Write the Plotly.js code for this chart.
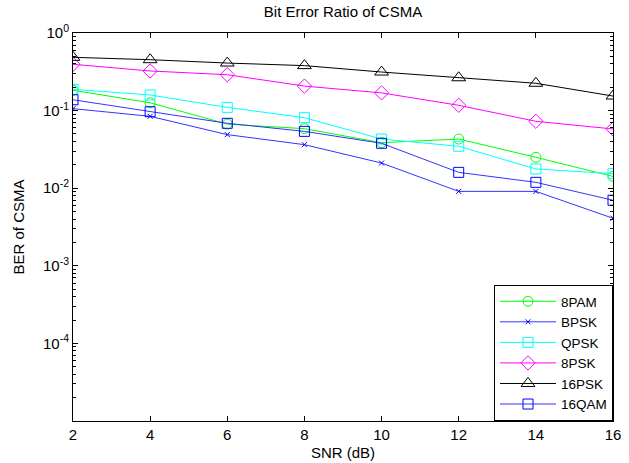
<!DOCTYPE html>
<html>
<head>
<meta charset="utf-8">
<script src="https://cdn.plot.ly/plotly-3.0.1.min.js"></script>
<style>
html,body{margin:0;padding:0;background:#fff;}
#chart{width:629px;height:463px;}
</style>
</head>
<body>
<div id="chart"></div>
<script>
// SNR (dB)
const snr = [2, 4, 6, 8, 10, 12, 14, 16];
// BER values
const ber8PAM  = [0.183, 0.126, 0.067, 0.0585, 0.0386, 0.043, 0.025, 0.0142];
const berBPSK  = [0.106, 0.0844, 0.049, 0.0364, 0.0211, 0.0091, 0.0091, 0.0041];
const berQPSK  = [0.188, 0.159, 0.110, 0.081, 0.043, 0.0347, 0.0177, 0.0154];
const ber8PSK  = [0.395, 0.324, 0.29, 0.207, 0.169, 0.117, 0.0728, 0.058];
const ber16PSK = [0.486, 0.453, 0.41, 0.38, 0.314, 0.265, 0.225, 0.154];
const ber16QAM = [0.138, 0.0968, 0.0686, 0.054, 0.0379, 0.016, 0.0119, 0.007];

const seriesNames = ['8PAM', 'BPSK', 'QPSK', '8PSK', '16PSK', '16QAM'];
const seriesData = [ber8PAM, berBPSK, berQPSK, ber8PSK, ber16PSK, ber16QAM];
const xTicks = [2, 4, 6, 8, 10, 12, 14, 16];
const yTickVals = [1e-5, 1e-4, 1e-3, 1e-2, 1e-1, 1];
const yTickText = ['', '10<sup>-4</sup>', '10<sup>-3</sup>', '10<sup>-2</sup>', '10<sup>-1</sup>', '10<sup>0</sup>'];

const styles = [
  {color: '#00ff00', line: '#00ff00', symbol: 'circle-open', size: 10},
  {color: '#0000ff', line: '#3333ff', symbol: 'x-thin-open', size: 5},
  {color: '#00ffff', line: '#00ffff', symbol: 'square-open', size: 10},
  {color: '#ff00ff', line: '#ff00ff', symbol: 'diamond-open', size: 11},
  {color: '#000000', line: '#000000', symbol: 'triangle-up-open', size: 12},
  {color: '#0000ff', line: '#3333ff', symbol: 'square-open', size: 10}
];

const traces = seriesNames.map((name, i) => ({
  x: snr,
  y: seriesData[i],
  name: name,
  type: 'scatter',
  mode: 'lines+markers',
  line: {color: styles[i].line, width: 1},
  marker: {symbol: styles[i].symbol, size: styles[i].size, color: styles[i].color,
           line: {color: styles[i].color, width: 1}}
}));

// minor tick positions for the log axis
const minorVals = [];
for (let e = -5; e < 0; e++) for (let m = 2; m <= 9; m++) minorVals.push(m * Math.pow(10, e));

const fam = 'Liberation Sans, Arial, sans-serif';
const font = {family: fam, size: 15, color: '#000'};

const layout = {
  width: 629, height: 463,
  margin: {l: 73, r: 16, t: 33, b: 42},
  paper_bgcolor: '#fff', plot_bgcolor: '#fff',
  font: font,
  showlegend: true,
  title: {text: 'Bit Error Ratio of CSMA', font: {family: fam, size: 15, color: '#000'},
          xref: 'paper', x: 0.5, xanchor: 'center', yref: 'container', y: 0.985, yanchor: 'top'},
  xaxis: {
    range: [2, 16], tickmode: 'array', tickvals: xTicks,
    ticks: 'inside', ticklen: 5, tickcolor: '#000',
    showline: true, linecolor: '#000', linewidth: 1, mirror: 'allticks',
    showgrid: false, zeroline: false,
    tickfont: {family: fam, size: 15, color: '#000'},
    title: {text: 'SNR (dB)', font: font, standoff: 5}
  },
  yaxis: {
    type: 'log', range: [-5, 0], tickmode: 'array', tickvals: yTickVals, ticktext: yTickText,
    ticks: 'inside', ticklen: 5, tickcolor: '#000',
    showline: true, linecolor: '#000', linewidth: 1, mirror: 'allticks',
    showgrid: false, zeroline: false,
    tickfont: {family: fam, size: 15, color: '#000'},
    minor: {tickmode: 'array', tickvals: minorVals, ticks: 'inside', ticklen: 3, tickcolor: '#000', showgrid: false},
    title: {text: 'BER of CSMA', font: font, standoff: 14}
  },
  legend: {
    x: 1, y: 0, xanchor: 'right', yanchor: 'bottom',
    bgcolor: '#fff', bordercolor: '#000', borderwidth: 1,
    font: {family: fam, size: 13.5, color: '#000'}, itemwidth: 56, tracegroupgap: 0,
    entrywidth: 128, entrywidthmode: 'pixels'
  }
};

Plotly.newPlot('chart', traces, layout, {displayModeBar: false, staticPlot: true});
</script>
</body>
</html>
